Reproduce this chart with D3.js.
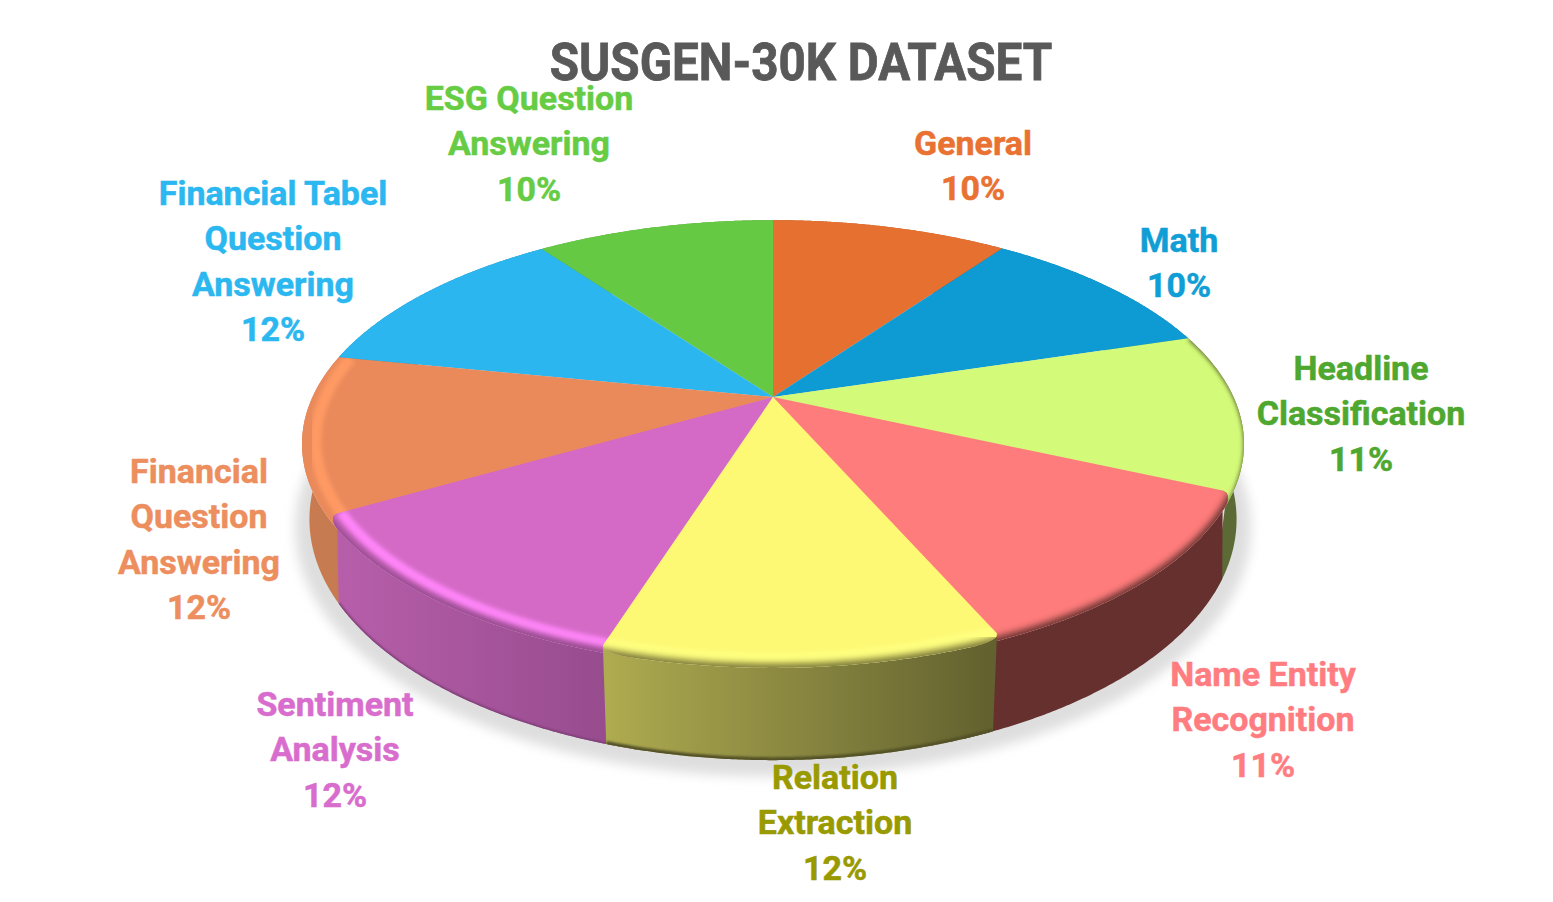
<!DOCTYPE html>
<html><head><meta charset="utf-8">
<script src="https://cdn.jsdelivr.net/npm/d3@7"></script>
<style>html,body{margin:0;background:#fff;overflow:hidden}text{font-family:Roboto,sans-serif;font-weight:700}</style>
</head><body><svg id="c" width="1553" height="902"></svg>
<script>
// ---- data ----
const categories = ["General","Math","Headline Classification","Name Entity Recognition","Relation Extraction","Sentiment Analysis","Financial Question Answering","Financial Tabel Question Answering","ESG Question Answering"];
const shares = [9.9,10.4,11.4,11.7,11.5,11.8,11.4,11.9,10.0];
const shownPercent = [10,10,11,11,12,12,12,12,10];
const labelLines = [["General"],["Math"],["Headline","Classification"],["Name Entity","Recognition"],["Relation","Extraction"],["Sentiment","Analysis"],["Financial","Question","Answering"],["Financial Tabel","Question","Answering"],["ESG Question","Answering"]];
const titleText = "SUSGEN-30K DATASET";
// ---- styles ----
const topColors = ["#E6702F","#0E9AD3","#D3FA78","#FF7C7C","#FDF975","#D46AC6","#EA8A5B","#2BB6EF","#66C944"];
const textColors = ["#E97132","#0F9ED5","#4EA72E","#FF7C80","#999900","#D86DCD","#ED8E5E","#2BB7F0","#66CC44"];
const sideFrom = ["#B05524","#0B7BA6","#5C6A36","#66302E","#AEAB50","#B75EAA","#C97B50","#1F8FBD","#4D9C33"];
const sideTo = ["#B05524","#0B7BA6","#5C6A36","#66302E","#62612F","#934A8B","#C47A50","#1F8FBD","#4D9C33"];
const rimLight = [null,null,null,null,"#FFFF80","#FF85F8","#FF9A64",null,null];
const rimDark = [false,false,true,true,true,true,false,false,false];
const roundStart = [0,0,0,1,1,0,0,0,0], roundEnd = [0,0,0,0,1,1,0,0,0];
const tuckStart = [0,0,0,0,0,1,1,0,0], tuckEnd = [0,0,1,1,0,0,0,0,0];
const labelAt = [[973,155],[1179,252],[1361,380],[1263,686],[835,789],[335,716],[199,483],[273,205],[529,110]];
const lineStep = 45.3, labelSize = 33, labelStretch = 1.03, titleSize = 52, titleStretch = 0.915;
// ---- geometry ----
const cx = 773;
const topPlane = {cy:397,a:214,b:460.5,k:0.21};
const basePlane = {cy:476,a:233,b:456,k:0.18};
function project(pl,ang,r){const x=r*Math.sin(ang),y=-r*Math.cos(ang),w=1-pl.k*y;return [cx+pl.b*x/w,pl.cy+pl.a*y/w];}
const cw=3.5*Math.PI/180, cd=0.02;
function rounded(i,ang,a0,a1){
  const f=(d)=>{if(d>=cw)return 1;const t=(cw-d)/cw;return 1-cd*(1-Math.sqrt(1-t*t));};
  return Math.min(roundStart[i]?f(ang-a0):1, roundEnd[i]?f(a1-ang):1);
}
function samples(a0,a1){return d3.range(0,121).map(i=>a0+(a1-a0)*i/120);}
const line=d3.line();
const svg=d3.select("#c"), defs=svg.append("defs");
[["b2",2.2],["b3",3.8],["bs",6],["b1",1]].forEach(([id,s])=>defs.append("filter").attr("id",id).attr("x","-10%").attr("y","-10%").attr("width","120%").attr("height","120%").append("feGaussianBlur").attr("stdDeviation",s));
const arcs=d3.pie().sort(null).value(d=>d)(shares);
// shadow
svg.append("path").attr("d",line(samples(0,2*Math.PI).map(a=>{const p=project(basePlane,a,1.03);return [p[0],p[1]+6];}))+"Z").attr("fill","#dedede").attr("filter","url(#bs)");
const order=d3.range(arcs.length).sort((p,q)=>-Math.cos((arcs[p].startAngle+arcs[p].endAngle)/2)-(-Math.cos((arcs[q].startAngle+arcs[q].endAngle)/2)));
order.forEach(i=>{
  const A=arcs[i];
  const a0=A.startAngle-(tuckStart[i]?cw:0),a1=A.endAngle+(tuckEnd[i]?cw:0),S=samples(a0,a1),g=svg.append("g");
  const topArc=S.map(a=>project(topPlane,a,rounded(i,a,a0,a1)));
  const baseArc=S.map(a=>project(basePlane,a,1));
  const xs=baseArc.map(p=>p[0]);
  const gid="side"+i;
  const gr=defs.append("linearGradient").attr("id",gid).attr("gradientUnits","userSpaceOnUse").attr("x1",d3.min(xs)).attr("x2",d3.max(xs)).attr("y1",0).attr("y2",0);
  gr.append("stop").attr("offset",0).attr("stop-color",sideFrom[i]);
  gr.append("stop").attr("offset",1).attr("stop-color",sideTo[i]);
  const sidePath=line(topArc.concat(baseArc.slice().reverse()))+"Z";
  defs.append("clipPath").attr("id","sc"+i).append("path").attr("d",sidePath);
  g.append("path").attr("d",sidePath).attr("fill",`url(#${gid})`);
  if(i===4||i===5) g.append("path").attr("d",line(baseArc)).attr("fill","none").attr("stroke",d3.color(sideTo[i]).darker(0.5)).attr("stroke-width",i===4?6:3).attr("filter","url(#b1)").attr("clip-path",`url(#sc${i})`);
  const topPath=line([project(topPlane,0,0)].concat(topArc))+"Z";
  defs.append("clipPath").attr("id","tc"+i).append("path").attr("d",topPath);
  g.append("path").attr("d",topPath).attr("fill",topColors[i]);
  const rim=g.append("g").attr("clip-path",`url(#tc${i})`);
  if(rimLight[i]) rim.append("path").attr("d",line(S.map(a=>project(topPlane,a,0.972)))).attr("fill","none").attr("stroke",rimLight[i]).attr("stroke-width",i===6?11:10).attr("filter","url(#b2)");
  if(rimDark[i]) rim.append("path").attr("d",line(S.map(a=>project(topPlane,a,1.004)))).attr("fill","none").attr("stroke",i===4?"#77763a":sideTo[i]).attr("stroke-width",i===2?5:11).attr("filter",i===2?"url(#b2)":"url(#b3)");
});
// labels
const lab=svg.append("g");
labelLines.forEach((ls,i)=>{
  ls.concat([shownPercent[i]+"%"]).forEach((t,j)=>{
    lab.append("text").attr("transform",`translate(${labelAt[i][0]},${labelAt[i][1]+j*lineStep}) scale(${labelStretch},1)`)
      .attr("text-anchor","middle").attr("font-size",labelSize).attr("fill",textColors[i]).attr("stroke",textColors[i]).attr("stroke-width",0.5).text(t);
  });
});
svg.append("text").attr("transform",`translate(801,80) scale(${titleStretch},1)`).attr("text-anchor","middle").attr("font-size",titleSize).attr("fill","#595959").attr("stroke","#595959").attr("stroke-width",0.8).text(titleText);
</script></body></html>
